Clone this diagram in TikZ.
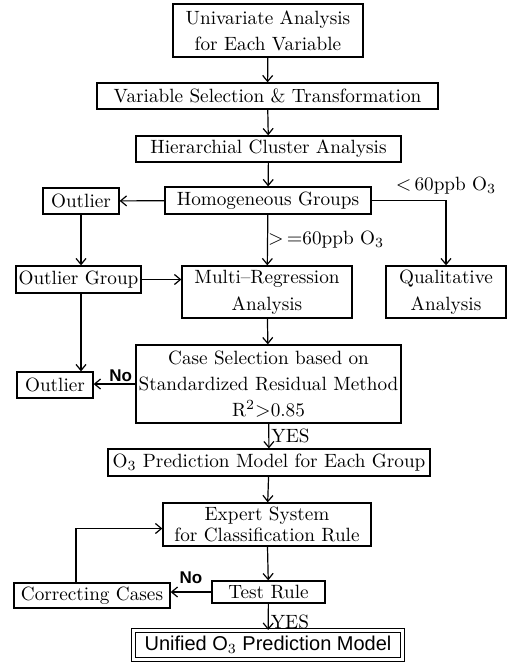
\documentclass[tikz,border=0pt]{standalone}
\usepackage{fontspec}
\newfontfamily\labelsf{Liberation Sans}
\usetikzlibrary{arrows.meta}
\tikzset{
  box/.style={draw, line width=0.65pt, align=center, inner sep=0pt, font=\fontsize{9.6}{13}\selectfont},
  arr/.style={-{Straight Barb[length=3pt,width=5pt]}, line width=0.6pt},
  lbl/.style={font=\fontsize{9.6}{11}\selectfont, inner sep=1pt},
  nolbl/.style={font=\labelsf\bfseries\fontsize{8.5}{10}\selectfont, inner sep=1pt},
}
\begin{document}
\begin{tikzpicture}[x=0.5pt,y=-0.5pt]
\useasboundingbox (0,0) rectangle (509,662);
\node [box, minimum width=95pt, minimum height=26.5pt] (uni) at (268,30.5) {Univariate Analysis\\for Each Variable};
\node [box, minimum width=170.5pt, minimum height=13pt] (varsel) at (267.5,96) {Variable Selection \& Transformation};
\node [box, minimum width=132.5pt, minimum height=13pt] (hca) at (268.5,149) {Hierarchial Cluster Analysis};
\node [box, minimum width=103pt, minimum height=13.5pt] (homog) at (268,200.5) {Homogeneous Groups};
\node [box, minimum width=38pt, minimum height=13pt] (outa) at (81,201) {Outlier};
\node [box, minimum width=62.5pt, minimum height=13.5pt] (outgrp) at (78.5,279.5) {Outlier Group};
\node [box, minimum width=85pt, minimum height=26pt, font=\fontsize{9.6}{13.5}\selectfont] (multi) at (267,292) {Multi--Regression\\Analysis};
\node [box, minimum width=60pt, minimum height=26pt, font=\fontsize{9.6}{13.5}\selectfont] (qual) at (446,292) {Qualitative\\Analysis};
\node [box, minimum width=132.5pt, minimum height=39pt] (case) at (268.5,384) {Case Selection based on\\Standardized Residual Method\\R$^2$$>$0.85};
\node [box, minimum width=38pt, minimum height=13pt] (outb) at (55,385) {Outlier};
\node [box, minimum width=161pt, minimum height=13.5pt] (pred) at (269,462.5) {O$_3$ Prediction Model for Each Group};
\node [box, minimum width=104pt, minimum height=21.5pt, font=\fontsize{9.6}{10.5}\selectfont] (expert) at (267,524.5) {Expert System\\for Classification Rule};
\node [box, minimum width=78pt, minimum height=12.5pt] (correct) at (92,595.5) {Correcting Cases};
\node [box, minimum width=56.5pt, minimum height=11pt] (test) at (268.5,592) {Test Rule};
\node [box, minimum width=134.75pt, minimum height=14.5pt, double, double distance=1.6pt, line width=0.55pt, font=\labelsf\fontsize{10}{11}\selectfont] (unified) at (268,645) {Unified O$_3$ Prediction Model};

\draw [arr] (uni) -- (varsel);
\draw [arr] (varsel) -- (hca);
\draw [arr] (hca) -- (homog);
\draw [arr] (homog) -- (outa);
\draw [arr] (homog.east) -| node [lbl, above, yshift=2pt] {$<$\,60ppb O$_3$} (qual.north);
\draw [arr] (homog) -- node [lbl, right, xshift=-1pt] {$>$\,$=$60ppb O$_3$} (multi);
\draw [arr] (outa.south) -- (outa.south |- outgrp.north);
\draw [arr] (outgrp.east) -- (outgrp.east -| multi.west);
\draw [arr] (outa.south |- outgrp.south) -- (outa.south |- outb.north);
\draw [arr] (multi) -- (case);
\draw [arr] (case.west) -- node [nolbl, above, pos=0.35] {No} (case.west -| outb.east);
\draw [arr] (case) -- node [lbl, right] {YES} (pred);
\draw [arr] (pred) -- (expert);
\draw [arr] (expert) -- (test);
\draw [arr] (test.west) -- node [nolbl, above, yshift=3pt] {No} (test.west -| correct.east);
\draw [arr] ([xshift=-8pt]correct.north) |- ([yshift=-2pt]expert.west);
\draw [arr] (test) -- node [lbl, right, pos=0.7] {YES} (unified);
\end{tikzpicture}
\end{document}
